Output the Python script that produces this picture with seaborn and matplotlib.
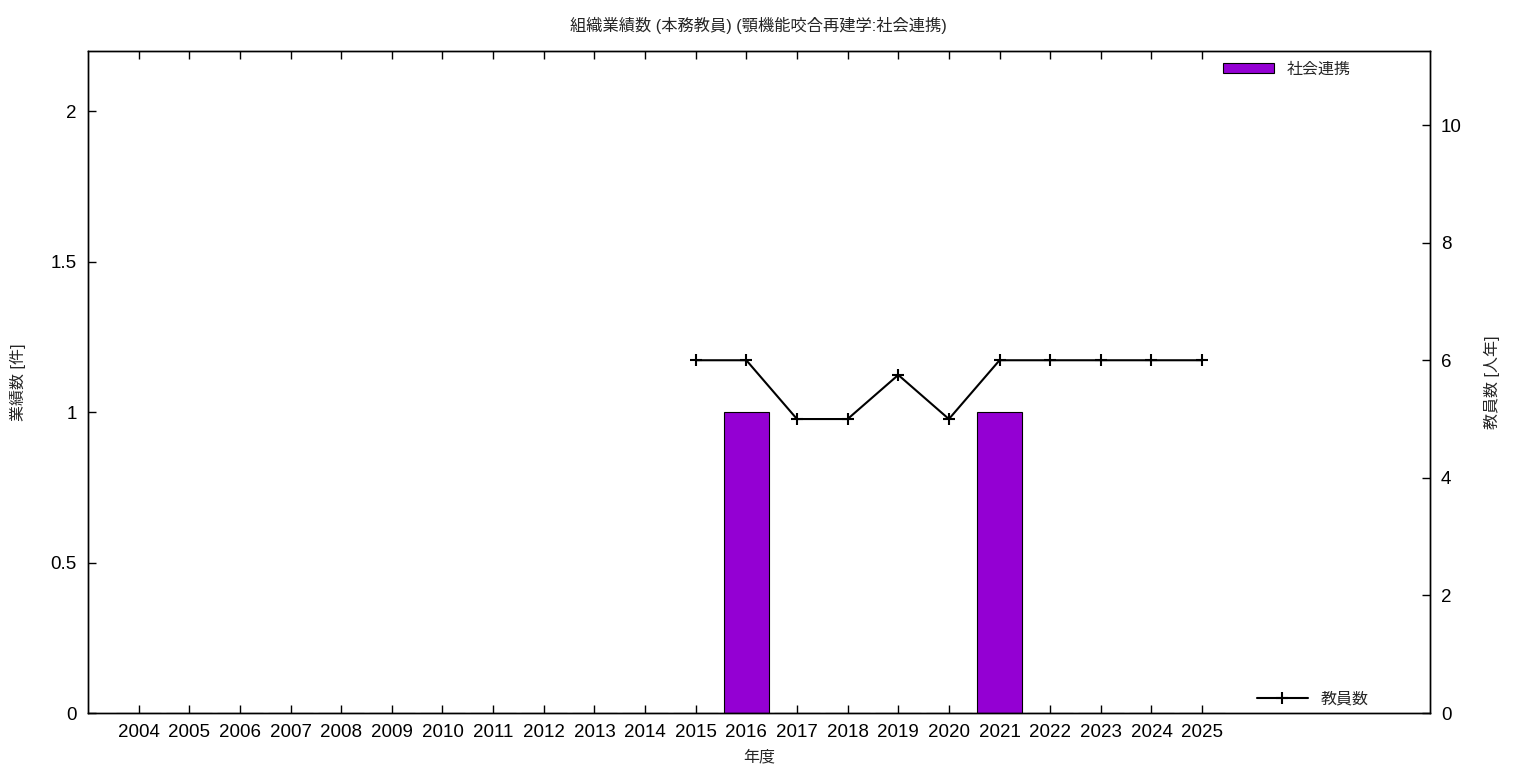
import matplotlib
matplotlib.use("Agg")
import matplotlib.pyplot as plt
import seaborn as sns
import pandas as pd

years = list(range(2004, 2026))
achievements = [0, 0, 0, 0, 0, 0, 0, 0, 0, 0, 0, 0, 1, 0, 0, 0, 0, 1, 0, 0, 0, 0]
staff_years = [2015, 2016, 2017, 2018, 2019, 2020, 2021, 2022, 2023, 2024, 2025]
staff_counts = [6, 6, 5, 5, 5.75, 5, 6, 6, 6, 6, 6]

title = "組織業績数 (本務教員) (顎機能咬合再建学:社会連携)"
bar_label = "社会連携"
line_label = "教員数"

sns.set_theme(style="white")
plt.rcParams['font.family'] = ['Liberation Sans', 'Noto Sans CJK JP', 'DejaVu Sans']

fig = plt.figure(figsize=(15.36, 7.68), dpi=100)
ax = fig.add_axes([88/1536, 1-713/768, (1430-88)/1536, (713-51)/768])

df_bar = pd.DataFrame({"year": years, "value": achievements})
sns.barplot(data=df_bar, x="year", y="value", native_scale=True, width=0.9,
            color="#9400D3", saturation=1, edgecolor="black", linewidth=0.8,
            label=bar_label, ax=ax)

ax2 = ax.twinx()
df_line = pd.DataFrame({"year": staff_years, "count": staff_counts})
sns.lineplot(data=df_line, x="year", y="count", color="black", linewidth=1.5,
             marker="+", markersize=8, markeredgewidth=1.5, markeredgecolor="black",
             label=line_label, ax=ax2)

ax.set_xlim(2003, 2029.5)
ax.set_ylim(0, 2.2)
ax2.set_ylim(0, 11.26)
ax.set_xticks(years)
ax.set_xticklabels([str(y) for y in years])
ax.set_yticks([0, 0.5, 1, 1.5, 2])
ax.set_yticklabels(["0", "0.5", "1", "1.5", "2"])
ax2.set_yticks([0, 2, 4, 6, 8, 10])

for a in (ax, ax2):
    for s in a.spines.values():
        s.set_color("black")
        s.set_linewidth(1.0)
ax.tick_params(axis="x", direction="in", length=6, width=1, top=True, bottom=True,
               labelsize=13.5, pad=8, colors="black")
ax.tick_params(axis="y", direction="in", length=6, width=1, left=True, right=False,
               labelsize=13.5, pad=8, colors="black")
ax2.tick_params(axis="y", direction="in", length=6, width=1, right=True, left=False,
                labelsize=13.5, pad=8, colors="black")

ax.set_xlabel("年度", fontsize=11.5, labelpad=6)
ax.set_ylabel("業績数 [件]", fontsize=11.5, labelpad=18)
ax2.set_ylabel("教員数 [人年]", fontsize=11.5, labelpad=16, rotation=90)
fig.suptitle(title, fontsize=11.7, x=0.494, y=0.978)

ax.legend(loc="upper right", bbox_to_anchor=(0.9516, 1.006), frameon=False,
          fontsize=11.5, handlelength=3.2, handleheight=0.6, handletextpad=0.8)
ax2.legend(loc="lower right", bbox_to_anchor=(0.965, -0.012), frameon=False,
           fontsize=11.5, handlelength=3.2, handletextpad=0.8)

fig.savefig("out.png", dpi=100)
